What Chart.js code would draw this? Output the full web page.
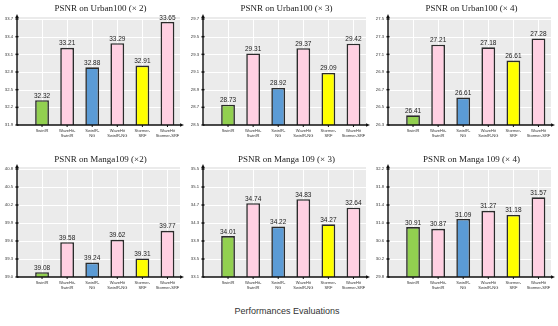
<!DOCTYPE html>
<html>
<head>
<meta charset="utf-8">
<script src="https://cdn.jsdelivr.net/npm/chart.js@4.4.0/dist/chart.umd.min.js"></script>
<style>
  body { margin: 0; background: #fff; width: 558px; height: 326px; position: relative; overflow: hidden; }
  canvas { position: absolute; }
  #caption { position: absolute; left: 8px; width: 558px; top: 306px; text-align: center;
             font: 9px "Liberation Sans", Arial, sans-serif; color: #333; }
</style>
</head>
<body>
<canvas id="c0" width="186" height="150" style="left:0;top:0"></canvas>
<canvas id="c1" width="186" height="150" style="left:186px;top:0"></canvas>
<canvas id="c2" width="186" height="150" style="left:371px;top:0"></canvas>
<canvas id="c3" width="186" height="150" style="left:0;top:150px"></canvas>
<canvas id="c4" width="186" height="150" style="left:186px;top:150px"></canvas>
<canvas id="c5" width="186" height="150" style="left:371px;top:150px"></canvas>
<div id="caption">Performances Evaluations</div>
<script>
// categories shared by every panel
const methods = [
  ['SwinIR'], ['WaveHit-', 'SwinIR'], ['SwinIR-', 'NG'],
  ['WaveHit', 'SwinIR-NG'], ['Stormer-', 'SRF'], ['WaveHit', 'Stormer-SRF']
];
const methodColors = ['#92d050', '#ffd0e2', '#5b9bd5', '#ffd0e2', '#ffff00', '#ffd0e2'];

// Urban100 x2
const urban2Values = [32.32, 33.21, 32.88, 33.29, 32.91, 33.65];
const urban2Labels = ['32.32', '33.21', '32.88', '33.29', '32.91', '33.65'];
const urban2Ticks = [31.9, 32.2, 32.5, 32.8, 33.1, 33.4, 33.7];
// Urban100 x3
const urban3Values = [28.73, 29.31, 28.92, 29.37, 29.09, 29.42];
const urban3Labels = ['28.73', '29.31', '28.92', '29.37', '29.09', '29.42'];
const urban3Ticks = [28.5, 28.7, 28.9, 29.1, 29.3, 29.5, 29.7];
// Urban100 x4
const urban4Values = [26.41, 27.21, 26.61, 27.18, 27.03, 27.28];
const urban4Labels = ['26.41', '27.21', '26.61', '27.18', '26.61', '27.28'];
const urban4Ticks = [26.3, 26.5, 26.7, 26.9, 27.1, 27.3, 27.5];
// Manga109 x2
const manga2Values = [39.08, 39.58, 39.24, 39.62, 39.31, 39.77];
const manga2Labels = ['39.08', '39.58', '39.24', '39.62', '39.31', '39.77'];
const manga2Ticks = [39.0, 39.3, 39.6, 39.9, 40.2, 40.5, 40.8];
// Manga109 x3
const manga3Values = [34.01, 34.74, 34.22, 34.83, 34.27, 34.64];
const manga3Labels = ['34.01', '34.74', '34.22', '34.83', '34.27', '32.64'];
const manga3Ticks = [33.1, 33.5, 33.9, 34.3, 34.7, 35.1, 35.5];
// Manga109 x4
const manga4Values = [30.91, 30.87, 31.09, 31.27, 31.18, 31.57];
const manga4Labels = ['30.91', '30.87', '31.09', '31.27', '31.18', '31.57'];
const manga4Ticks = [29.8, 30.2, 30.6, 31.0, 31.4, 31.8, 32.2];

const AXIS_X = 17;

const decor = {
  id: 'decor',
  beforeDraw(chart) {
    const { ctx, chartArea: a } = chart;
    ctx.save();
    ctx.fillStyle = '#ebebeb';
    ctx.fillRect(AXIS_X, a.top - 2, a.right - AXIS_X, a.bottom - a.top + 2);
    ctx.restore();
  },
  beforeDatasetsDraw(chart) {
    const { ctx, chartArea: a, scales } = chart;
    ctx.save();
    ctx.strokeStyle = '#ffffff';
    ctx.lineWidth = 1;
    scales.y.ticks.forEach(t => {
      const y = Math.round(scales.y.getPixelForValue(t.value)) + 0.5;
      ctx.beginPath(); ctx.moveTo(AXIS_X, y); ctx.lineTo(a.right, y); ctx.stroke();
    });
    ctx.restore();
  },
  afterDatasetsDraw(chart, args, opts) {
    const { ctx, chartArea: a, scales } = chart;
    ctx.save();
    // value labels
    ctx.fillStyle = '#222';
    ctx.font = '6.5px "Liberation Sans", Arial, sans-serif';
    ctx.textAlign = 'center';
    ctx.textBaseline = 'bottom';
    chart.getDatasetMeta(0).data.forEach((bar, i) => {
      ctx.fillText(opts.labels[i], bar.x, bar.y - 1);
    });
    // axes
    ctx.strokeStyle = '#111';
    ctx.fillStyle = '#111';
    ctx.lineWidth = 1.4;
    ctx.beginPath();
    ctx.moveTo(AXIS_X, a.bottom); ctx.lineTo(AXIS_X, a.top - 2);
    ctx.moveTo(AXIS_X, a.bottom); ctx.lineTo(a.right + 1, a.bottom);
    ctx.stroke();
    ctx.beginPath();
    ctx.moveTo(AXIS_X, a.top - 5); ctx.lineTo(AXIS_X - 1.8, a.top - 1); ctx.lineTo(AXIS_X + 1.8, a.top - 1);
    ctx.closePath(); ctx.fill();
    ctx.beginPath();
    ctx.moveTo(a.right + 4, a.bottom); ctx.lineTo(a.right, a.bottom - 1.8); ctx.lineTo(a.right, a.bottom + 1.8);
    ctx.closePath(); ctx.fill();
    // tick marks
    ctx.lineWidth = 1.5;
    scales.y.ticks.forEach(t => {
      const y = scales.y.getPixelForValue(t.value);
      ctx.beginPath(); ctx.moveTo(AXIS_X - 1.5, y); ctx.lineTo(AXIS_X + 1.5, y); ctx.stroke();
    });
    ctx.lineWidth = 1;
    scales.x.ticks.forEach((t, i) => {
      const x = scales.x.getPixelForTick(i);
      ctx.beginPath(); ctx.moveTo(x, a.bottom); ctx.lineTo(x, a.bottom + 2); ctx.stroke();
    });
    // title
    ctx.fillStyle = '#1a1a1a';
    ctx.font = '9px "Liberation Serif", "Times New Roman", serif';
    ctx.textBaseline = 'middle';
    ctx.fillText(opts.title, (AXIS_X + a.right + 4) / 2, opts.titleY);
    ctx.restore();
  }
};

function makePanel(id, title, values, labels, ticks, row) {
  const top = row === 0 ? 15 : 18;
  const xHeight = row === 0 ? 25 : 23;
  new Chart(document.getElementById(id), {
    type: 'bar',
    data: {
      labels: methods,
      datasets: [{
        data: values,
        backgroundColor: methodColors,
        borderColor: '#2b2b2b',
        borderWidth: 1.6,
        borderSkipped: false,
        barPercentage: 0.55,
        categoryPercentage: 1
      }]
    },
    options: {
      responsive: false,
      animation: false,
      layout: { padding: { top: top, right: 6, left: 0, bottom: 0 } },
      plugins: {
        legend: { display: false },
        tooltip: { enabled: false },
        decor: { title: title, labels: labels, titleY: row === 0 ? 9 : 10 }
      },
      scales: {
        x: {
          offset: true,
          grid: { offset: false, color: '#ffffff', lineWidth: 1, drawTicks: false },
          border: { display: false },
          ticks: {
            padding: 3, maxRotation: 0, autoSkip: false, color: '#333',
            font: { family: '"Liberation Sans", Arial, sans-serif', size: 4, lineHeight: 1.3 }
          },
          afterFit(scale) { scale.height = xHeight; }
        },
        y: {
          min: ticks[0],
          max: ticks[ticks.length - 1],
          grid: { display: false, drawTicks: false },
          border: { display: false },
          afterBuildTicks(scale) { scale.ticks = ticks.map(v => ({ value: v })); },
          ticks: {
            padding: 16.5, color: '#333',
            font: { family: '"Liberation Sans", Arial, sans-serif', size: 4.2 },
            callback: v => Number(v).toFixed(1)
          },
          afterFit(scale) { scale.width = 29.5; }
        }
      }
    },
    plugins: [decor]
  });
}

makePanel('c0', 'PSNR on Urban100 (\u00d7 2)', urban2Values, urban2Labels, urban2Ticks, 0);
makePanel('c1', 'PSNR on Urban100 (\u00d7 3)', urban3Values, urban3Labels, urban3Ticks, 0);
makePanel('c2', 'PSNR on Urban100 (\u00d7 4)', urban4Values, urban4Labels, urban4Ticks, 0);
makePanel('c3', 'PSNR on Manga109 (\u00d72)', manga2Values, manga2Labels, manga2Ticks, 1);
makePanel('c4', 'PSNR on Manga 109 (\u00d7 3)', manga3Values, manga3Labels, manga3Ticks, 1);
makePanel('c5', 'PSNR on Manga 109 (\u00d7 4)', manga4Values, manga4Labels, manga4Ticks, 1);
</script>
</body>
</html>
